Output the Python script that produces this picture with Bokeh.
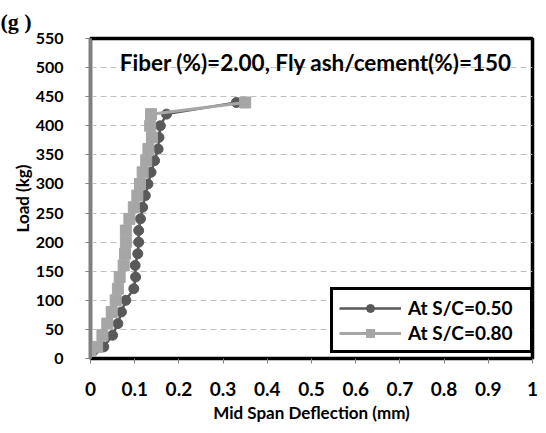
from bokeh.plotting import figure
from bokeh.models import Label, Span, Legend, LegendItem, FixedTicker
from bokeh.embed import file_html
from bokeh.resources import INLINE

# Data
load = [0, 20, 40, 60, 80, 100, 120, 140, 160, 180, 200, 220, 240, 260, 280, 300,
        320, 340, 360, 380, 400, 420, 440]
defl_050 = [0.0, 0.03, 0.05, 0.062, 0.07, 0.08, 0.098, 0.102, 0.101, 0.107, 0.109, 0.109,
            0.113, 0.118, 0.124, 0.130, 0.137, 0.145, 0.153, 0.155, 0.158, 0.172, 0.33]
defl_080 = [0.0, 0.015, 0.027, 0.038, 0.048, 0.057, 0.062, 0.066, 0.075, 0.078, 0.08, 0.08,
            0.088, 0.098, 0.106, 0.112, 0.118, 0.126, 0.131, 0.139, 0.135, 0.137, 0.35]
x_ticks = [0, 0.1, 0.2, 0.3, 0.4, 0.5, 0.6, 0.7, 0.8, 0.9, 1]
x_tick_labels = ["0", "0.1", "0.2", "0.3", "0.4", "0.5", "0.6", "0.7", "0.8", "0.9", "1"]
y_ticks = [0, 50, 100, 150, 200, 250, 300, 350, 400, 450, 500, 550]
series_labels = ["At S/C=0.50", "At S/C=0.80"]
title_text = "Fiber (%)=2.00, Fly ash/cement(%)=150"
panel_text = "(g )"

FONT = "Lato"

p = figure(width=538, height=425, x_range=(0, 1), y_range=(0, 550),
           output_backend="svg", toolbar_location=None,
           min_border_left=90, min_border_top=38, min_border_right=6, min_border_bottom=5)

p.title.text = panel_text
p.title.align = "left"
p.title.offset = -90
p.title.standoff = 10
p.title.text_font = "Liberation Serif"
p.title.text_font_style = "bold"
p.title.text_font_size = "22px"
p.title.text_color = "black"

p.outline_line_color = "black"
p.outline_line_width = 3.5
p.outline_line_alpha = 1
p.background_fill_color = "white"
p.border_fill_color = "white"

p.xgrid.visible = False
p.ygrid.grid_line_color = "#BFBFBF"
p.ygrid.grid_line_dash = "6 4"
p.ygrid.grid_line_width = 1.2

p.xaxis.ticker = FixedTicker(ticks=x_ticks)
p.xaxis.major_label_overrides = {t: l for t, l in zip(x_ticks, x_tick_labels)}
p.yaxis.ticker = FixedTicker(ticks=y_ticks)

for ax in (p.xaxis, p.yaxis):
    ax.major_label_text_font = FONT
    ax.major_label_text_font_style = "bold"
    ax.major_label_text_color = "black"
    ax.axis_label_text_font = FONT
    ax.axis_label_text_font_style = "bold"
    ax.axis_label_text_font_size = "17px"
    ax.axis_label_text_color = "black"
    ax.minor_tick_line_color = None
    ax.major_tick_in = 0
    ax.major_tick_out = 5

p.xaxis.major_label_text_font_size = "19px"
p.yaxis.major_label_text_font_size = "16px"

p.xaxis.axis_line_color = "black"
p.xaxis.axis_line_width = 3
p.xaxis.major_tick_line_color = "#808080"
p.xaxis.major_label_standoff = 18
p.xaxis.axis_label = "Mid Span Deflection (mm)"
p.xaxis.axis_label_standoff = 3

p.yaxis.axis_line_color = "#808080"
p.yaxis.axis_line_width = 3
p.yaxis.major_tick_line_color = "#808080"
p.yaxis.major_label_standoff = 22
p.yaxis.axis_label = "Load (kg)"
p.yaxis.axis_label_standoff = 0

p.add_layout(Span(location=0, dimension="height", line_color="#808080",
                  line_width=2.5, level="overlay"))

dark = "#595959"
light = "#A6A6A6"
l1 = p.line(defl_050, load, line_color=dark, line_width=2.5)
s1 = p.scatter(defl_050, load, marker="circle", size=10, fill_color=dark, line_color=dark)
l2 = p.line(defl_080, load, line_color=light, line_width=3)
s2 = p.scatter(defl_080, load, marker="square", size=11, fill_color=light, line_color=light)

legend = Legend(items=[LegendItem(label=series_labels[0], renderers=[l1, s1]),
                       LegendItem(label=series_labels[1], renderers=[l2, s2])],
                location=(240, 5))
legend.border_line_color = "black"
legend.border_line_width = 3.5
legend.border_line_alpha = 1
legend.background_fill_color = "white"
legend.background_fill_alpha = 1
legend.label_text_font = FONT
legend.label_text_font_style = "bold"
legend.label_text_font_size = "19px"
legend.label_text_color = "black"
legend.glyph_width = 62
legend.glyph_height = 20
legend.label_height = 20
legend.label_width = 116
legend.padding = 6
legend.spacing = 2
legend.margin = 0
legend.label_standoff = 7
p.add_layout(legend, "center")

p.add_layout(Label(x=0.51, y=508, text=title_text, text_align="center",
                   text_baseline="middle", text_font=FONT, text_font_style="bold",
                   text_font_size="22.5px", text_color="black"))

open("out.html", "w").write(file_html(p, INLINE))
